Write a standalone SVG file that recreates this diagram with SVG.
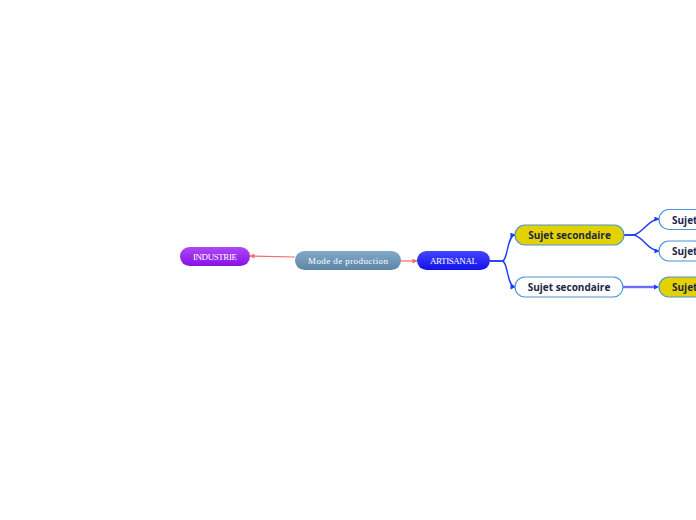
<svg xmlns="http://www.w3.org/2000/svg" width="696" height="520" viewBox="0 0 696 520">
<style>
.serif{font-family:"Liberation Serif","Times New Roman",serif;font-size:9px;fill:#ffffff;text-anchor:middle;dominant-baseline:central}
.bold{font-family:"Open Sans","Noto Sans",sans-serif;font-size:10px;font-weight:700;fill:#1b2748;dominant-baseline:central}
.sub{stroke:#4a92d4;stroke-width:1.2}
.red{fill:none;stroke:#f26a6a;stroke-width:1.2}
.blue{fill:none;stroke:#1c3cf5;stroke-width:1.4}
</style>
<defs>
<linearGradient id="gPurple" x1="0" y1="0" x2="0" y2="1"><stop offset="0" stop-color="#b048f2"/><stop offset="1" stop-color="#8612e6"/></linearGradient>
<linearGradient id="gSteel" x1="0" y1="0" x2="0" y2="1"><stop offset="0" stop-color="#82a9c8"/><stop offset="1" stop-color="#5d85a5"/></linearGradient>
<linearGradient id="gBlue" x1="0" y1="0" x2="0" y2="1"><stop offset="0" stop-color="#4444ff"/><stop offset="1" stop-color="#1212ec"/></linearGradient>
<marker id="mRed" viewBox="0 0 6 6" refX="5.5" refY="3" markerWidth="5" markerHeight="5" orient="auto" markerUnits="userSpaceOnUse"><path d="M0,0 L6,3 L0,6 z" fill="#f26a6a"/></marker>
<marker id="mBlue" viewBox="0 0 6 6" refX="5.5" refY="3" markerWidth="5" markerHeight="5" orient="auto" markerUnits="userSpaceOnUse"><path d="M0,0 L6,3 L0,6 z" fill="#1c3cf5"/></marker>
</defs>
<g id="connectors">
<path class="red" d="M295,257 L250,256" marker-end="url(#mRed)"/>
<path class="red" d="M401,261 L417,261" marker-end="url(#mRed)"/>
<path class="blue" d="M490,261 H502 C508,261 507,235 515,235" marker-end="url(#mBlue)"/>
<path class="blue" d="M490,261 H502 C508,261 507,287 515,287" marker-end="url(#mBlue)"/>
<path class="blue" d="M624,235 H633 C642,235 648,219 659,219" marker-end="url(#mBlue)"/>
<path class="blue" d="M624,235 H633 C642,235 648,251 659,251" marker-end="url(#mBlue)"/>
<path fill="none" stroke="#6b6bf4" stroke-width="2.4" d="M623,287 L655,287"/>
<path d="M654,284.5 L659,287 L654,289.5 z" fill="#1c3cf5"/>
</g>
<g id="industrie">
<rect x="180" y="247" width="70" height="19" rx="9.5" fill="url(#gPurple)"/>
<text class="serif" x="215" y="256.5" textLength="44" lengthAdjust="spacing">INDUSTRIE</text>
</g>
<g id="mode-de-production">
<rect x="295" y="251" width="106" height="19" rx="9.5" fill="url(#gSteel)"/>
<text class="serif" x="348" y="260.5" textLength="80" lengthAdjust="spacing">Mode de production</text>
</g>
<g id="artisanal">
<rect x="417" y="251" width="73" height="19" rx="9.5" fill="url(#gBlue)"/>
<text class="serif" x="453.5" y="260.5" textLength="47" lengthAdjust="spacing">ARTISANAL</text>
</g>
<g id="sujet-secondaire-1">
<rect class="sub" x="515" y="225" width="109" height="20" rx="10" fill="#e4d200"/>
<text class="bold" x="569.5" y="235" text-anchor="middle">Sujet secondaire</text>
</g>
<g id="sujet-secondaire-2">
<rect class="sub" x="515" y="277" width="108" height="20" rx="10" fill="#ffffff"/>
<text class="bold" x="569" y="287" text-anchor="middle">Sujet secondaire</text>
</g>
<g id="sujet-a">
<rect class="sub" x="659" y="209.5" width="60" height="20" rx="10" fill="#ffffff"/>
<text class="bold" x="672" y="219.5">Sujet</text>
</g>
<g id="sujet-b">
<rect class="sub" x="659" y="241" width="60" height="20" rx="10" fill="#ffffff"/>
<text class="bold" x="672" y="251">Sujet</text>
</g>
<g id="sujet-c">
<rect class="sub" x="659" y="277" width="60" height="20" rx="10" fill="#e4d200"/>
<text class="bold" x="672" y="287">Sujet</text>
</g>
</svg>
